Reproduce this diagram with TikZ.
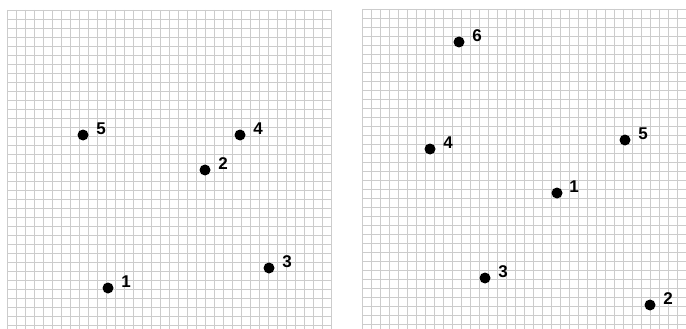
\documentclass[tikz,border=0pt]{standalone}
\usepackage{fontspec}
\setmainfont{Liberation Sans}
\begin{document}
\begin{tikzpicture}[x=1pt,y=-1pt,
  gridline/.style={draw=gray!40,line width=0.7pt},
  dot/.style={circle,fill=black,inner sep=0pt,minimum size=11pt},
  lab/.style={font=\bfseries\fontsize{17}{17}\selectfont,inner sep=0pt}]
\useasboundingbox (0,0) rectangle (686,329);
\fill[white] (0,0) rectangle (686,329);
% left grid
\foreach \i in {0,...,36} {\draw[gridline] (7+9*\i,10) -- (7+9*\i,329);}
\foreach \j in {0,...,35} {\draw[gridline] (7,10+9*\j) -- (331,10+9*\j);}
% right grid
\foreach \i in {0,...,36} {\draw[gridline] (362+9*\i,9) -- (362+9*\i,329);}
\foreach \j in {0,...,35} {\draw[gridline] (362,9+9*\j) -- (686,9+9*\j);}
% left dots
\node[dot] (L5) at (83,135) {};  \node[lab] (tL5) at (101,129) {5};
\node[dot] (L4) at (240,135) {}; \node[lab] (tL4) at (258,129) {4};
\node[dot] (L2) at (205,170) {}; \node[lab] (tL2) at (223,164) {2};
\node[dot] (L3) at (269,268) {}; \node[lab] (tL3) at (287,262) {3};
\node[dot] (L1) at (108,288) {}; \node[lab] (tL1) at (126,282) {1};
% right dots
\node[dot] (R6) at (459,42) {};  \node[lab] (tR6) at (477,36) {6};
\node[dot] (R4) at (430,149) {}; \node[lab] (tR4) at (448,143) {4};
\node[dot] (R5) at (625,140) {}; \node[lab] (tR5) at (643,134) {5};
\node[dot] (R1) at (557,193) {}; \node[lab] (tR1) at (574,187) {1};
\node[dot] (R3) at (485,278) {}; \node[lab] (tR3) at (503,272) {3};
\node[dot] (R2) at (650,305) {}; \node[lab] (tR2) at (668,299) {2};
\end{tikzpicture}
\end{document}
